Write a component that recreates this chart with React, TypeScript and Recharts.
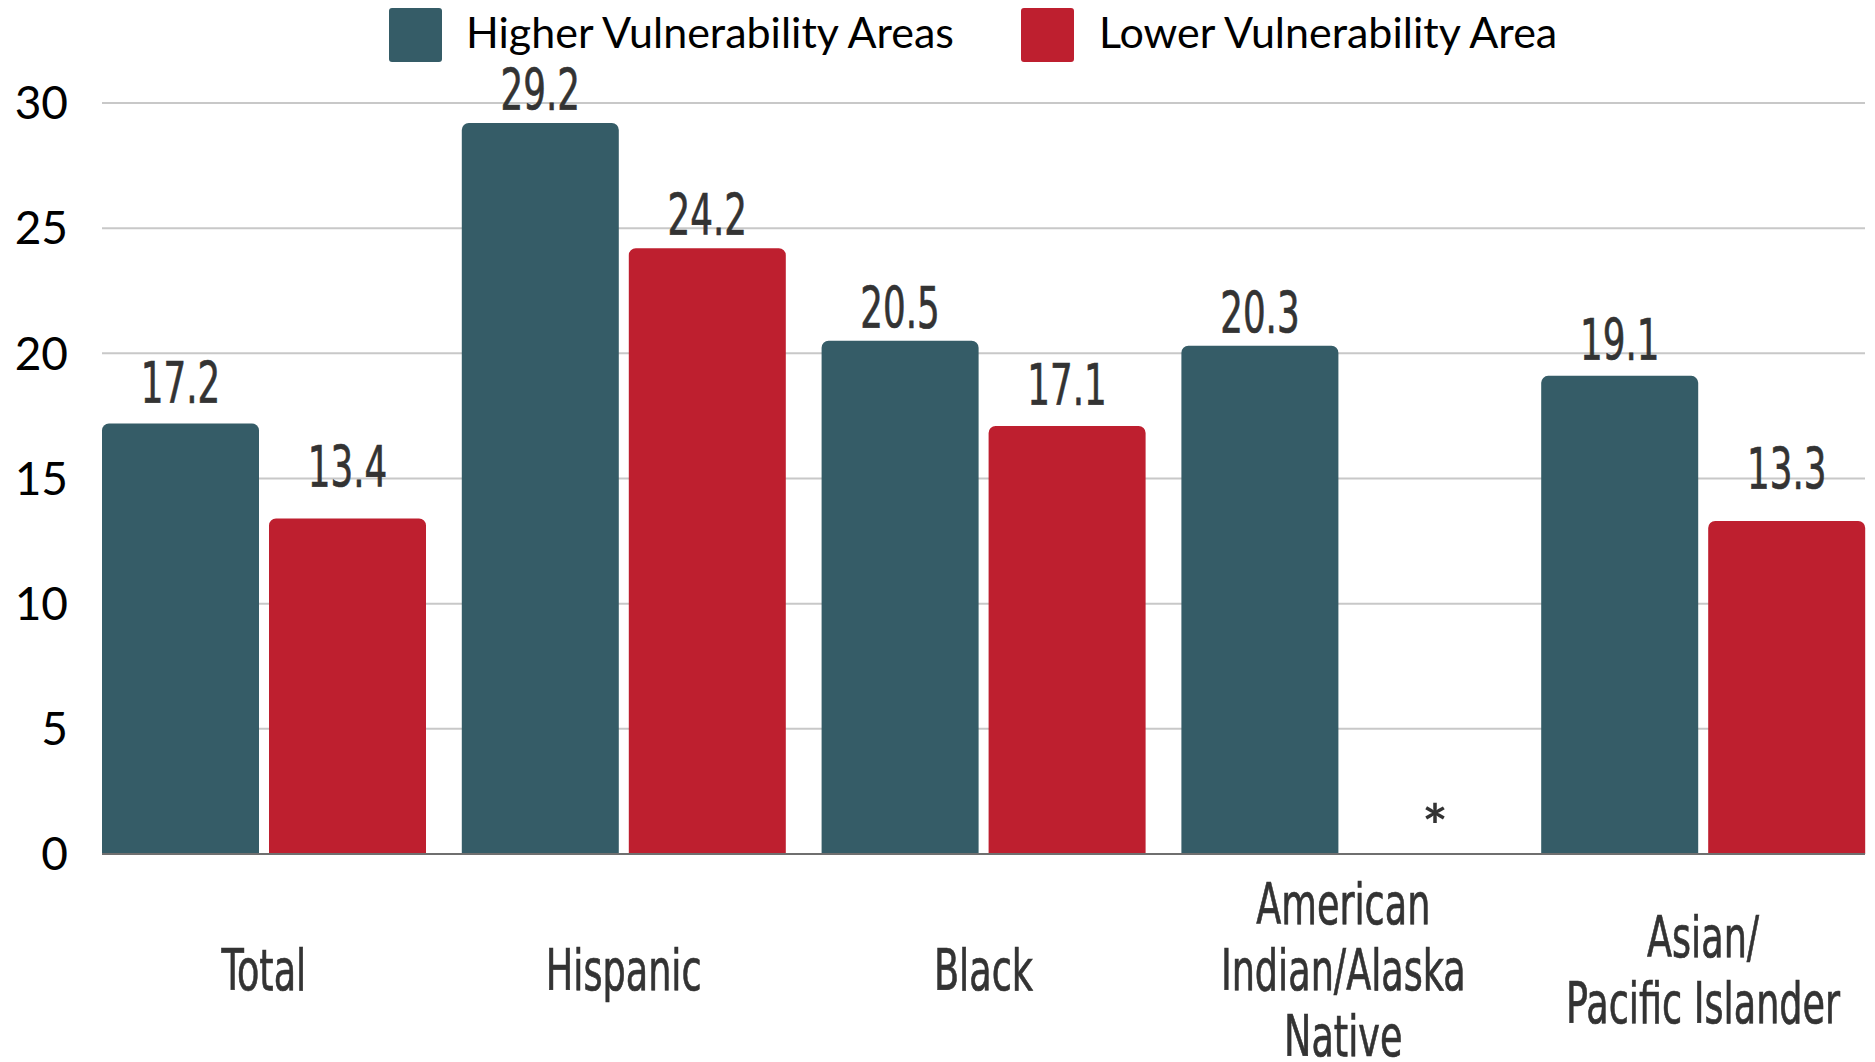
import { Bar, BarChart, CartesianGrid, LabelList, XAxis, YAxis } from "recharts";

const categories = [
  "Total",
  "Hispanic",
  "Black",
  "American Indian/Alaska Native",
  "Asian/Pacific Islander",
];
const tickLines = [
  ["Total"],
  ["Hispanic"],
  ["Black"],
  ["American", "Indian/Alaska", "Native"],
  ["Asian/", "Pacific Islander"],
];
const higher = [17.2, 29.2, 20.5, 20.3, 19.1];
const lower: (number | null)[] = [13.4, 24.2, 17.1, null, 13.3];
const yTicks = [0, 5, 10, 15, 20, 25, 30];

const BLUE = "#355c67";
const RED = "#be1f2f";
const DARK = "#333333";
const NARROW = "'Liberation Sans Narrow', 'Arial Narrow', 'DejaVu Sans Condensed', sans-serif";

const data = categories.map((name, i) => ({
  name,
  higher: higher[i],
  lower: lower[i],
}));

// labels above bars, squeezed to look like the condensed original;
// shorter bars get their label lifted a bit more, as in the source
const ValueLabel = (props: any) => {
  const { x, y, width, value } = props;
  if (value == null) return null;
  const cx = Number(x) + Number(width) / 2;
  const lift = 13 + Math.max(0, 20 - Number(value)) * 2.8;
  return (
    <text
      transform={`translate(${cx},${Number(y) - lift}) scale(0.81,1.17)`}
      textAnchor="middle"
      fill={DARK}
      stroke={DARK}
      strokeWidth={0.6}
      fontFamily={NARROW}
      fontSize={49}
    >
      {value}
    </text>
  );
};

// blue label also marks a missing red bar with an asterisk
const HigherLabel = (props: any) => {
  const { x, width, index } = props;
  const missing = lower[index] == null;
  return (
    <g>
      <ValueLabel {...props} />
      {missing && (
        <text
          x={Number(x) + Number(width) * 1.5 + 18}
          y={848}
          textAnchor="middle"
          fill={DARK}
          fontFamily="Lato, sans-serif"
          fontWeight="bold"
          fontSize={60}
        >
          *
        </text>
      )}
    </g>
  );
};

const CategoryTick = (props: any) => {
  const { x, payload } = props;
  const lines = tickLines[payload.index] ?? [payload.value];
  const lineH = 66;
  const first = 990 - ((lines.length - 1) * lineH) / 2;
  return (
    <g>
      {lines.map((line, i) => (
        <text
          key={i}
          transform={`translate(${x},${first + i * lineH}) scale(0.83,1.18)`}
          textAnchor="middle"
          fill={DARK}
          stroke={DARK}
          strokeWidth={0.6}
          fontFamily={NARROW}
          fontSize={49}
        >
          {line}
        </text>
      ))}
    </g>
  );
};

export default function App() {
  return (
    <div
      style={{
        position: "absolute",
        left: 0,
        top: 0,
        width: 1875,
        height: 1062,
        background: "#fff",
      }}
    >
      {/* legend */}
      <svg
        width={1875}
        height={80}
        style={{ position: "absolute", left: 0, top: 0 }}
      >
        <rect x={389} y={8} width={53} height={54} rx={3} fill={BLUE} />
        <text x={466} y={48} fontFamily="Lato, sans-serif" fontSize={43} fill="#000">
          Higher Vulnerability Areas
        </text>
        <rect x={1021} y={8} width={53} height={54} rx={3} fill={RED} />
        <text x={1099} y={48} fontFamily="Lato, sans-serif" fontSize={43} fill="#000">
          Lower Vulnerability Area
        </text>
      </svg>

      <BarChart
        width={1875}
        height={1062}
        data={data}
        margin={{ top: 103, right: 10, bottom: 0, left: 0 }}
        barGap={10}
        barCategoryGap={18}
      >
        <CartesianGrid vertical={false} stroke="#c8c8c8" strokeWidth={2} />
        <XAxis
          dataKey="name"
          height={208}
          padding={{ left: -18, right: -18 }}
          tickLine={false}
          tickSize={0}
          axisLine={{ stroke: "#6f6f6f", strokeWidth: 2 }}
          tick={<CategoryTick />}
          interval={0}
        />
        <YAxis
          width={102}
          domain={[0, 30]}
          ticks={yTicks}
          axisLine={false}
          tickLine={false}
          tickSize={0}
          tickMargin={34}
          tick={{ fill: "#000", fontSize: 46, fontFamily: "Lato, sans-serif" }}
        />
        <Bar dataKey="higher" fill={BLUE} radius={[7, 7, 0, 0]} isAnimationActive={false}>
          <LabelList dataKey="higher" content={<HigherLabel />} />
        </Bar>
        <Bar dataKey="lower" fill={RED} radius={[7, 7, 0, 0]} isAnimationActive={false}>
          <LabelList dataKey="lower" content={<ValueLabel />} />
        </Bar>
      </BarChart>
    </div>
  );
}
